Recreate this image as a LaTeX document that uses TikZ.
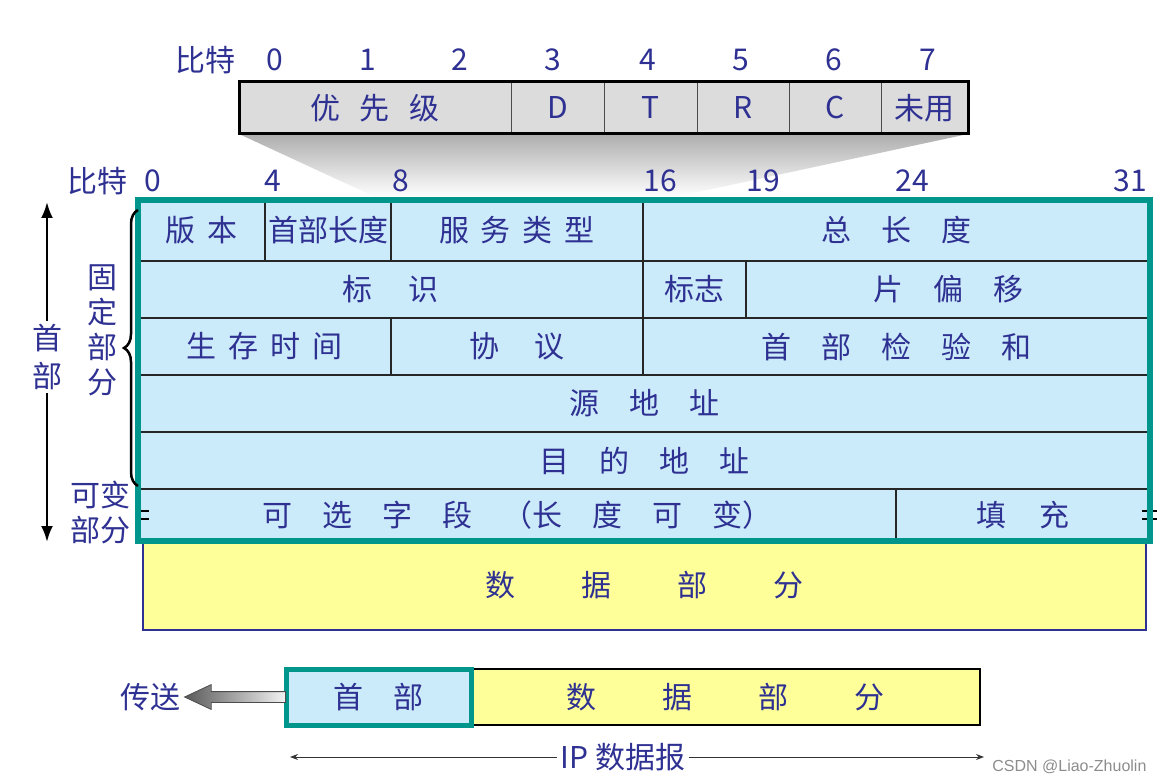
\documentclass[tikz,border=0pt]{standalone}
\usepackage{fontspec}
\setmainfont{Noto Sans CJK SC}
\newfontfamily\markfont{Liberation Sans}
\usetikzlibrary{
  shapes,
  shapes.arrows,
  decorations.pathreplacing,
  positioning,
  arrows.meta
}
\definecolor{ipblue}{RGB}{46,49,146}
\definecolor{ipteal}{RGB}{0,150,140}
\definecolor{cellblue}{RGB}{204,235,250}
\definecolor{cellgray}{RGB}{220,220,220}
\definecolor{cellyellow}{RGB}{255,255,153}

\begin{document}
\begin{tikzpicture}[x=1pt,y=-1pt,
    every node/.style={text=ipblue,font=\fontsize{30}{35}\selectfont},
    cell/.style={draw=black!85,line width=1.5pt,fill=cellblue,anchor=north west,inner sep=0pt,outer sep=0pt},
    tcell/.style={draw=black!70,line width=1pt,fill=cellgray,anchor=north west,inner sep=0pt,outer sep=0pt,minimum height=52pt},
    frame/.style={anchor=north west,inner sep=0pt,outer sep=0pt}]
    \useasboundingbox (0,0) rectangle (1162,783);

    \node[tcell,minimum width=272pt] (prio) at (239,82) {优\hspace{0.65em}先\hspace{0.65em}级};
    \node[tcell,minimum width=93pt] (dbit) at (prio.north east) {D};
    \node[tcell,minimum width=93pt] (tbit) at (dbit.north east) {T};
    \node[tcell,minimum width=92pt] (rbit) at (tbit.north east) {R};
    \node[tcell,minimum width=92pt] (cbit) at (rbit.north east) {C};
    \node[tcell,minimum width=87pt] (unused) at (cbit.north east) {未用};
    \shade[top color=black!32,bottom color=white] (prio.south west) -- (unused.south east) -- (675,197) -- (375,197) -- cycle;
    \node[frame,draw=black,line width=3pt,minimum width=729pt,minimum height=52pt] (tosbox) at (239,82) {};

    \node (topbits) at (205,60) {比特};
    \node (tb0) at (275,60) {0};
    \node (tb1) at (368,60) {1};
    \node (tb2) at (460,60) {2};
    \node (tb3) at (553,60) {3};
    \node (tb4) at (648,60) {4};
    \node (tb5) at (741,60) {5};
    \node (tb6) at (834,60) {6};
    \node (tb7) at (928,60) {7};

    \node (hdrbits) at (97,181) {比特};
    \node (hb0) at (153,181) {0};
    \node (hb4) at (273,181) {4};
    \node (hb8) at (401,181) {8};
    \node (hb16) at (660,181) {16};
    \node (hb19) at (763,181) {19};
    \node (hb24) at (912,181) {24};
    \node (hb31) at (1130,181) {31};

    \node[frame,draw=ipblue,line width=1.2pt,fill=cellyellow,minimum width=1003pt,minimum height=89pt] (data) at (143,541) {数\hspace{2.2em}据\hspace{2.2em}部\hspace{2.2em}分};

    \node[cell,minimum width=127pt,minimum height=61pt] (ver) at (138,200) {版\hspace{0.4em}本};
    \node[cell,minimum width=126pt,minimum height=61pt] (hlen) at (ver.north east) {首部长度};
    \node[cell,minimum width=252pt,minimum height=61pt] (tos) at (hlen.north east) {服\hspace{0.4em}务\hspace{0.4em}类\hspace{0.4em}型};
    \node[cell,minimum width=507pt,minimum height=61pt] (tlen) at (tos.north east) {总\quad 长\quad 度};
    \node[cell,minimum width=505pt,minimum height=57pt] (ident) at (ver.south west) {标\hspace{1.2em}识};
    \node[cell,minimum width=103pt,minimum height=57pt] (flag) at (ident.north east) {标志};
    \node[cell,minimum width=404pt,minimum height=57pt] (frag) at (flag.north east) {片\quad 偏\quad 移};
    \node[cell,minimum width=253pt,minimum height=57pt] (ttl) at (ident.south west) {生\hspace{0.4em}存\hspace{0.4em}时\hspace{0.4em}间};
    \node[cell,minimum width=252pt,minimum height=57pt] (proto) at (ttl.north east) {协\hspace{1.2em}议};
    \node[cell,minimum width=507pt,minimum height=57pt] (chksum) at (proto.north east) {首\quad 部\quad 检\quad 验\quad 和};
    \node[cell,minimum width=1012pt,minimum height=57pt] (src) at (ttl.south west) {源\quad 地\quad 址};
    \node[cell,minimum width=1012pt,minimum height=57pt] (dst) at (src.south west) {目\quad 的\quad 地\quad 址};
    \node[cell,minimum width=758pt,minimum height=52pt] (opt) at (dst.south west) {可\quad 选\quad 字\quad 段\quad （长\quad 度\quad 可\quad 变）};
    \node[cell,minimum width=254pt,minimum height=52pt] (pad) at (opt.north east) {填\hspace{1.1em}充};

    \draw[line width=2.5pt] (139,511) -- (149,511) (139,519) -- (149,519)
      (1142,511) -- (1157,511) (1142,519) -- (1157,519);
    \node[frame,draw=ipteal,line width=6pt,minimum width=1012pt,minimum height=341pt] (header) at (138,200) {};

    \coordinate (bracetop) at (138,210);
    \coordinate (bracebot) at (138,486);
    \draw[decorate,decoration={brace,amplitude=14pt},line width=2.5pt] (bracebot) -- (bracetop);
    \node[align=center] (fixed) at (102,330) {固\\定\\部\\分};
    \node[align=center] (vari) at (100,513) {可变\\部分};

    \node[align=center] (hdrlbl) at (47,357) {首\\[3pt]部};
    \coordinate (arrtop) at (47,202);
    \coordinate (arrbot) at (47,542);
    \draw[-{Latex[length=16pt,width=12pt]},line width=2.5pt] (hdrlbl) -- (arrtop);
    \draw[-{Latex[length=16pt,width=12pt]},line width=2.5pt] (hdrlbl) -- (arrbot);

    \node[frame,draw=black,line width=2.5pt,fill=cellyellow,minimum width=509pt,minimum height=56pt] (payload) at (471,669) {数\hspace{2.2em}据\hspace{2.2em}部\hspace{2.2em}分};
    \node[frame,draw=ipteal,line width=5pt,fill=cellblue,minimum width=185pt,minimum height=56pt] (hdr) at (286,669) {首\quad 部};

    \node[single arrow,shape border rotate=180,draw=black!70,line width=0.8pt,left color=black!65,right color=black!5,
      minimum height=101pt,inner xsep=0pt,inner ysep=5pt,single arrow head extend=7pt,single arrow tip angle=50,
      anchor=tail] (send) at (hdr.west) {};
    \node[left=0pt of send.tip] (sendlbl) {传送};

    \node (iplbl) at (623,757) {IP 数据报};
    \coordinate (ipl) at (290,757);
    \coordinate (ipr) at (984,757);
    \draw[-{Stealth[length=8pt,width=6pt]},line width=1pt,black!80] (iplbl) -- (ipl);
    \draw[-{Stealth[length=8pt,width=6pt]},line width=1pt,black!80] (iplbl) -- (ipr);

    \node[text=black!45,font=\markfont\fontsize{16}{18}\selectfont,anchor=east] (mark) at (1150,767) {CSDN @Liao-Zhuolin};
\end{tikzpicture}
\end{document}
